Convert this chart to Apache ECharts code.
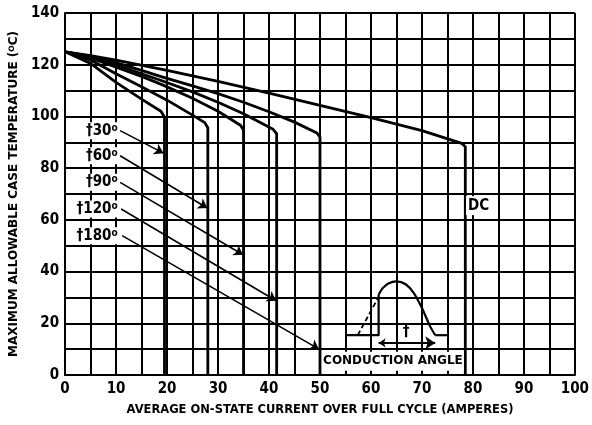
<!DOCTYPE html>
<html><head><meta charset="utf-8">
<script src="https://cdn.jsdelivr.net/npm/echarts@6/dist/echarts.min.js"></script>
<style>html,body{margin:0;padding:0;background:#fff}#c{width:592px;height:425px}</style>
</head><body><div id="c"></div>
<script>
// ---- data ----
const xLabels = [0,10,20,30,40,50,60,70,80,90,100];
const yLabels = [0,20,40,60,80,100,120,140];
const curveDC  = [[0,125],[5,123.5],[10,121.8],[20,117.8],[30,113.6],[40,109],[50,104.3],[60,99.5],[70,94.5],[77.8,89.6],[78.5,88.3],[78.5,0]];
const curve180 = [[0,125],[5,123.3],[10,120.8],[15,117.8],[19,115.3],[25,111.8],[30,108.8],[35,105.5],[40,101.8],[45,97.8],[49.4,93.6],[50,92],[50,0]];
const curve120 = [[0,125],[5,123],[10,120],[15,116.5],[19,113.8],[25,109.5],[30,105.5],[35,101],[40.8,95],[41.5,93.3],[41.5,0]];
const curve90  = [[0,125],[5,122.6],[10,119],[15,115.5],[19,112.3],[25,107],[30,102],[34.4,96.6],[35,94.8],[35,0]];
const curve60  = [[0,125],[5,121.8],[10,116.5],[15,111.5],[20,106.3],[25,100.5],[27.4,97.6],[28,95.6],[28,0]];
const curve30  = [[0,125],[5,120.5],[10,113.2],[15,106.7],[18.8,102],[19.5,99.8],[19.5,0]];
const angleNames = ['30','60','90','120','180'];
const angleLabelAt = [[10.5,94.5],[10.5,84.8],[10.5,74.5],[10.5,64.2],[10.5,53.9]];
const angleArrows = [
  [[10.8,94.5],[19.3,85.8]],
  [[10.8,84.8],[27.9,64.6]],
  [[10.8,74.5],[34.9,46.5]],
  [[11.0,64.2],[41.4,28.7]],
  [[11.2,53.9],[49.8,10]]
];
const dcLabelAt = [81.1,65.5];
const conductionLabelAt = [64.3,5.3];
// inset waveform
const pulseLeft  = [[55.2,15.4],[61.5,15.4],[61.5,31]];
const pulseArc   = [[61.5,31],[62.3,33.6],[63.5,35.5],[65,36.2],[66.8,35.1],[68.4,31.7],[70,25.9],[71.6,18.8],[72.6,15.4]];
const pulseRight = [[72.6,15.4],[75.2,15.4]];
const pulseDash  = [[57.4,15.4],[61.3,29.5]];
const angleSpan  = [[61.5,12.4],[72.6,12.4]];
const daggerAt   = [66.9,16.6];

const FONT = "'Liberation Sans Narrow','DejaVu Sans Condensed',sans-serif";
const chart = echarts.init(document.getElementById('c'), null, {renderer:'canvas'});

function curve(d, w){
  return {type:'line', data:d, showSymbol:false, symbol:'none', smooth:false, z:3,
    lineStyle:{color:'#000', width:w||2.8, join:'round'}, animation:false, silent:true};
}
const curveSeries = [curveDC, curve180, curve120, curve90, curve60, curve30].map(d=>curve(d));

const labelData = angleNames.map((n,i)=>({value:angleLabelAt[i], label:{formatter:'{a|†'+n+'}{s|o}'}}));
const solid = {opacity:1, color:'#000'};

const option = {
  animation:false,
  backgroundColor:'#fff',
  grid:{left:63, right:15, top:13, bottom:50},
  xAxis:{type:'value', min:0, max:100, interval:5,
    axisLine:{show:true, lineStyle:{color:'#000', width:2}},
    axisTick:{show:false},
    splitLine:{show:true, lineStyle:{color:'#000', width:2}},
    axisLabel:{margin:7, color:'#000', fontFamily:FONT, fontWeight:'bold', fontSize:15,
      formatter:v=> xLabels.indexOf(v)>=0 ? String(v) : ''},
    name:'AVERAGE ON-STATE CURRENT OVER FULL CYCLE (AMPERES)', nameLocation:'middle', nameGap:29,
    nameTextStyle:{color:'#000', fontFamily:"'DejaVu Sans',sans-serif", fontWeight:'bold', fontSize:11.5}
  },
  yAxis:{type:'value', min:0, max:140, interval:10,
    axisLine:{show:true, lineStyle:{color:'#000', width:2}},
    axisTick:{show:false},
    splitLine:{show:true, lineStyle:{color:'#000', width:2}},
    axisLabel:{margin:6, color:'#000', fontFamily:FONT, fontWeight:'bold', fontSize:15,
      formatter:v=> yLabels.indexOf(v)>=0 ? String(v) : ''},
    name:'{a|MAXIMUM ALLOWABLE CASE TEMPERATURE (}{s|O}{a|C)}', nameLocation:'middle', nameGap:39,
    nameTextStyle:{color:'#000', rich:{
      a:{fontFamily:"'DejaVu Sans',sans-serif", fontWeight:'bold', fontSize:12, color:'#000'},
      s:{fontFamily:"'DejaVu Sans',sans-serif", fontWeight:'bold', fontSize:7.5, color:'#000', verticalAlign:'top'}}}
  },
  series:[
    ...curveSeries,
    {type:'lines', coordinateSystem:'cartesian2d', z:4, silent:true,
      symbol:['none','arrow'], symbolSize:[6,9],
      lineStyle:{color:'#000', width:1.6, curveness:0, opacity:1},
      data:angleArrows.map(c=>({coords:c}))},
    {type:'lines', coordinateSystem:'cartesian2d', z:4, silent:true,
      symbol:['arrow','arrow'], symbolSize:[7,10],
      lineStyle:{color:'#000', width:1.8, curveness:0, opacity:1},
      data:[{coords:angleSpan}]},
    curve(pulseLeft, 2.2),
    Object.assign(curve(pulseArc, 2.2), {smooth:0.3}),
    curve(pulseRight, 2.2),
    Object.assign(curve(pulseDash, 1.8), {lineStyle:{color:'#000', width:1.8, type:[5,3]}}),
    {type:'scatter', z:10, symbolSize:0, silent:true, itemStyle:solid,
      label:{show:true, position:'left', distance:0, color:'#000', opacity:1, backgroundColor:'#fff', padding:[1,1,1,3],
        rich:{a:{fontFamily:FONT, fontWeight:'bold', fontSize:15, color:'#000', opacity:1},
              s:{fontFamily:FONT, fontWeight:'bold', fontSize:10, color:'#000', opacity:1, verticalAlign:'top'}}},
      data:labelData},
    {type:'scatter', z:10, symbolSize:0, silent:true, itemStyle:solid,
      label:{show:true, position:'inside', color:'#000', opacity:1, backgroundColor:'#fff', padding:[2,2],
        fontFamily:FONT, fontWeight:'bold', fontSize:15},
      data:[{value:dcLabelAt, label:{formatter:'DC'}},
            {value:daggerAt, label:{formatter:'†', backgroundColor:'transparent'}}]},
    {type:'scatter', z:10, symbolSize:0, silent:true, itemStyle:solid,
      label:{show:true, position:'inside', color:'#000', opacity:1, backgroundColor:'#fff', padding:[4,1,3,1],
        fontFamily:"'DejaVu Sans',sans-serif", fontWeight:'bold', fontSize:12},
      data:[{value:conductionLabelAt, label:{formatter:'CONDUCTION ANGLE'}}]}
  ]
};
chart.setOption(option);
</script></body></html>
